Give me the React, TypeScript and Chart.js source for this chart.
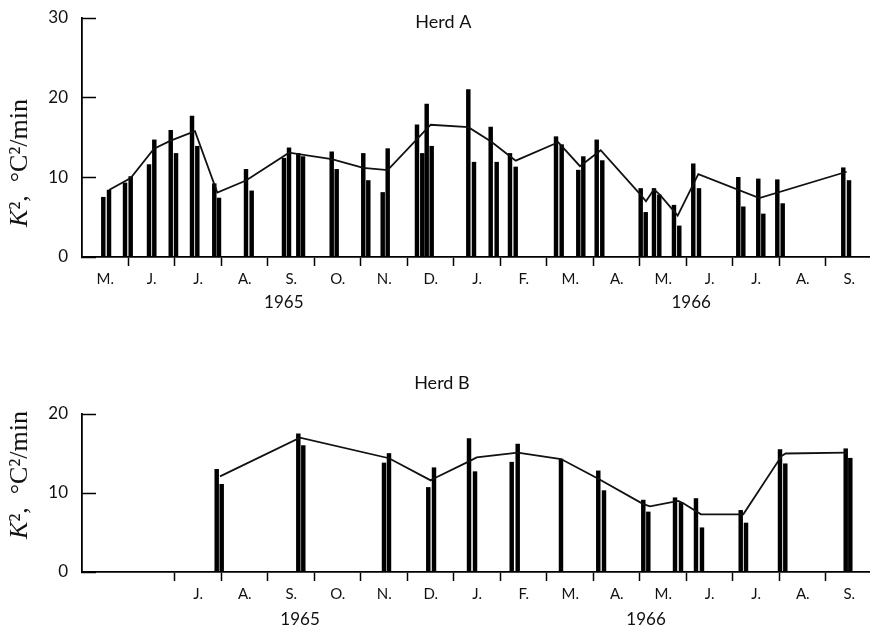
import React, { useEffect, useRef } from 'react';
import { Chart, registerables } from 'chart.js';

Chart.register(...registerables);

// x values are in months counted from 1 May 1965 (0 = start of May 1965)
const monthsTop = ['M.', 'J.', 'J.', 'A.', 'S.', 'O.', 'N.', 'D.', 'J.', 'F.', 'M.', 'A.', 'M.', 'J.', 'J.', 'A.', 'S.'];
const monthsBottom = ['J.', 'A.', 'S.', 'O.', 'N.', 'D.', 'J.', 'F.', 'M.', 'A.', 'M.', 'J.', 'J.', 'A.', 'S.'];
const yearLabels = ['1965', '1966'];

// Herd A — individual measurements (bars)
const herdABarX = [0.458, 0.581, 0.925, 1.047, 1.441, 1.555, 1.908, 2.022, 2.366, 2.48, 2.845, 2.946, 3.527, 3.649,
  4.344, 4.452, 4.652, 4.753, 5.37, 5.477, 6.049, 6.157, 6.467, 6.574, 7.204, 7.318, 7.413, 7.52, 8.308, 8.43,
  8.789, 8.918, 9.204, 9.327, 10.194, 10.316, 10.673, 10.781, 11.069, 11.189, 12.015, 12.123, 12.301, 12.415,
  12.731, 12.845, 13.146, 13.269, 14.114, 14.222, 14.544, 14.652, 14.953, 15.069, 16.372, 16.495];
const herdABarY = [7.5, 8.4, 9.3, 10.1, 11.6, 14.7, 15.9, 13.0, 17.7, 13.9, 9.2, 7.4, 11.0, 8.3,
  12.4, 13.7, 13.0, 12.6, 13.2, 11.0, 13.0, 9.6, 8.1, 13.6, 16.6, 13.0, 19.2, 13.9, 21.0, 11.9,
  16.3, 11.9, 13.0, 11.3, 15.1, 14.1, 10.9, 12.6, 14.7, 12.1, 8.6, 5.6, 8.6, 7.8,
  6.5, 3.9, 11.7, 8.6, 10.0, 6.3, 9.8, 5.4, 9.7, 6.7, 11.2, 9.6];
// Herd A — mean curve
const herdALineX = [0.581, 1.047, 1.548, 1.908, 2.43, 2.91, 3.527, 4.452, 5.37, 6.049, 6.574, 7.499, 8.308, 8.796,
  9.327, 10.243, 10.71, 11.155, 12.015, 12.129, 12.301, 12.43, 12.811, 13.254, 14.566, 16.445];
const herdALineY = [8.4, 9.9, 13.6, 14.6, 15.8, 8.1, 9.6, 13.1, 12.3, 11.2, 10.9, 16.6, 16.3, 14.5,
  12.1, 14.4, 11.4, 13.4, 7.8, 7.0, 8.5, 7.8, 5.2, 10.4, 7.4, 10.7];

// Herd B — individual measurements (bars)
const herdBBarX = [2.897, 3.004, 4.652, 4.759, 6.495, 6.602, 7.447, 7.57, 8.323, 8.452, 9.241, 9.37, 10.301,
  11.103, 11.226, 12.071, 12.179, 12.753, 12.882, 13.204, 13.333, 14.166, 14.28, 15.011, 15.125, 16.424, 16.523];
const herdBBarY = [13.0, 11.1, 17.5, 16.0, 13.8, 15.0, 10.7, 13.2, 16.9, 12.7, 13.9, 16.2, 14.3,
  12.8, 10.3, 9.1, 7.6, 9.4, 8.8, 9.3, 5.6, 7.8, 6.2, 15.5, 13.7, 15.6, 14.4];
// Herd B — mean curve
const herdBLineX = [2.968, 4.688, 6.602, 7.499, 7.591, 8.323, 8.488, 9.37, 10.301, 11.103, 12.071, 12.215,
  12.824, 12.931, 13.312, 14.222, 15.047, 15.133, 16.445];
const herdBLineY = [12.1, 17.0, 14.4, 11.6, 11.9, 14.0, 14.5, 15.1, 14.3, 11.8, 8.6, 8.3,
  9.0, 8.7, 7.3, 7.3, 14.7, 15.0, 15.1];

const X_MAX = 16.925;
const INK = '#111';
const SANS = 'Lato, "Open Sans", sans-serif';
const SERIF = '"Liberation Serif", "DejaVu Serif", serif';

type Panel = {
  title: string;
  titleAt: number;
  barX: number[];
  barY: number[];
  lineX: number[];
  lineY: number[];
  yMax: number;
  firstMonth: number;
  firstTick: number;
  months: string[];
  yearAt: number[];
  padTop: number;
  xHeight: number;
  titleY: number;
  yearY: number;
  yLabelY: number;
};

function buildConfig(p: Panel): any {
  const barData = p.barX.map((x, i) => ({ x, y: p.barY[i] }));
  const lineData = p.lineX.map((x, i) => ({ x, y: p.lineY[i] }));
  const tickVals: number[] = [];
  for (let m = p.firstMonth; m < 17; m++) {
    if (m >= p.firstTick) tickVals.push(m);
    tickVals.push(m + 0.5);
  }
  tickVals.sort((a, b) => a - b);

  const textPlugin = {
    id: 'panelTexts',
    afterDraw(chart: any) {
      const ctx = chart.ctx;
      const xs = chart.scales.x;
      ctx.save();
      ctx.fillStyle = INK;
      ctx.textAlign = 'center';
      ctx.textBaseline = 'middle';
      ctx.font = `18px ${SANS}`;
      ctx.fillText(p.title, xs.getPixelForValue(p.titleAt), p.titleY);
      ctx.font = `17px ${SANS}`;
      yearLabels.forEach((t, i) => ctx.fillText(t, xs.getPixelForValue(p.yearAt[i]), p.yearY));

      // rotated axis label: K², °C²/min
      ctx.translate(27, p.yLabelY);
      ctx.rotate(-Math.PI / 2);
      ctx.textBaseline = 'alphabetic';
      ctx.textAlign = 'left';
      const parts: [string, string][] = [
        ['K', `italic 26px ${SERIF}`],
        ['², \u00a0°C²/min', `26px ${SERIF}`],
      ];
      let total = 0;
      parts.forEach(([t, f]) => { ctx.font = f; total += ctx.measureText(t).width; });
      let x = -total / 2;
      parts.forEach(([t, f]) => { ctx.font = f; ctx.fillText(t, x, 0); x += ctx.measureText(t).width; });
      ctx.restore();
    },
  };

  return {
    type: 'bar',
    data: {
      datasets: [
        {
          type: 'line',
          data: lineData,
          borderColor: INK,
          borderWidth: 1.8,
          pointRadius: 0,
          tension: 0,
          fill: false,
          order: 0,
        },
        {
          type: 'bar',
          data: barData,
          backgroundColor: '#000',
          borderWidth: 0,
          barThickness: 3.8,
          grouped: false,
          order: 1,
        },
      ],
    },
    options: {
      animation: false,
      responsive: false,
      events: [],
      layout: { padding: { top: p.padTop, right: 1, left: 0, bottom: 0 } },
      plugins: { legend: { display: false }, tooltip: { enabled: false }, title: { display: false } },
      scales: {
        x: {
          type: 'linear',
          min: 0,
          max: X_MAX,
          offset: false,
          afterBuildTicks: (axis: any) => { axis.ticks = tickVals.map((v) => ({ value: v })); },
          afterFit: (scale: any) => {
            scale.height = p.xHeight;
            scale.paddingLeft = 0;
            scale.paddingRight = 0;
          },
          grid: {
            display: true,
            drawOnChartArea: false,
            offset: false,
            tickLength: 9,
            tickWidth: 1.5,
            tickColor: (c: any) => (c.tick && Number.isInteger(c.tick.value) ? '#000' : 'rgba(0,0,0,0)'),
          },
          border: { display: true, color: '#000', width: 1.8 },
          ticks: {
            autoSkip: false,
            maxRotation: 0,
            minRotation: 0,
            padding: 4,
            color: INK,
            font: { family: SANS, size: 15 },
            callback: (value: any) => {
              const v = Number(value);
              if (Number.isInteger(v)) return '';
              return p.months[Math.floor(v) - p.firstMonth] ?? '';
            },
          },
        },
        y: {
          type: 'linear',
          min: 0,
          max: p.yMax,
          afterFit: (scale: any) => {
            scale.width = 82;
            scale.paddingTop = 0;
            scale.paddingBottom = 0;
          },
          grid: {
            display: true,
            drawOnChartArea: false,
            tickLength: -14,
            tickWidth: 1.5,
            tickColor: '#000',
          },
          border: { display: true, color: '#000', width: 1.8 },
          ticks: {
            stepSize: 10,
            padding: 28,
            color: INK,
            font: { family: SANS, size: 17 },
          },
        },
      },
    },
    plugins: [textPlugin],
  };
}

const panelA: Panel = {
  title: 'Herd A', titleAt: 7.77,
  barX: herdABarX, barY: herdABarY, lineX: herdALineX, lineY: herdALineY,
  yMax: 30, firstMonth: 0, firstTick: 1, months: monthsTop, yearAt: [4.34, 13.1],
  padTop: 18, xHeight: 63, titleY: 22, yearY: 303, yLabelY: 163,
};

const panelB: Panel = {
  title: 'Herd B', titleAt: 7.74,
  barX: herdBBarX, barY: herdBBarY, lineX: herdBLineX, lineY: herdBLineY,
  yMax: 20, firstMonth: 2, firstTick: 2, months: monthsBottom, yearAt: [4.69, 12.13],
  padTop: 94, xHeight: 57, titleY: 63, yearY: 300, yLabelY: 155,
};

function ChartCanvas({ panel, top, height }: { panel: Panel; top: number; height: number }) {
  const ref = useRef<HTMLCanvasElement | null>(null);
  useEffect(() => {
    if (!ref.current) return;
    const chart = new Chart(ref.current, buildConfig(panel));
    return () => chart.destroy();
  }, [panel]);
  return (
    <canvas
      ref={ref}
      width={870}
      height={height}
      style={{ position: 'absolute', left: 0, top, width: 870, height }}
    />
  );
}

export default function App() {
  return (
    <div style={{ position: 'absolute', left: 0, top: 0, width: 870, height: 629, background: '#fff', overflow: 'hidden' }}>
      <ChartCanvas panel={panelA} top={0} height={320} />
      <ChartCanvas panel={panelB} top={320} height={309} />
    </div>
  );
}
